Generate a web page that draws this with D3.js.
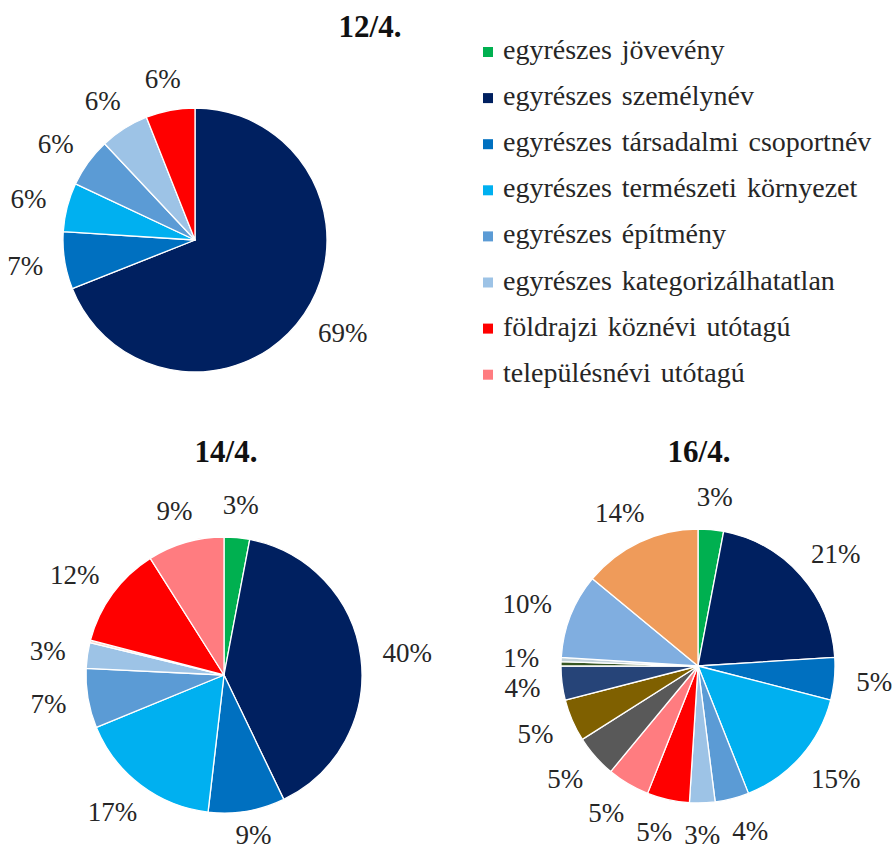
<!DOCTYPE html>
<html>
<head>
<meta charset="utf-8">
<script src="https://cdn.jsdelivr.net/npm/d3@7"></script>
<style>
  html, body { margin: 0; padding: 0; background: #fff; }
</style>
</head>
<body>
<div id="chart"></div>
<script>
// ----- Data -----
const legendLabels = [
  "egyrészes jövevény",
  "egyrészes személynév",
  "egyrészes társadalmi csoportnév",
  "egyrészes természeti környezet",
  "egyrészes építmény",
  "egyrészes kategorizálhatatlan",
  "földrajzi köznévi utótagú",
  "településnévi utótagú"
];

// category index per slice (0-7 = legend, 8+ = extra categories not in legend)
const pie12Cats   = [0, 1, 2, 3, 4, 5, 6];
const pie12Values = [0, 69, 7, 6, 6, 6, 6];
const pie12Labels = ["", "69%", "7%", "6%", "6%", "6%", "6%"];

const pie14Cats   = [0, 1, 2, 3, 4, 5, 14, 6, 7];
const pie14Values = [3, 40, 9, 17, 7, 3, 0.3, 12, 9];
const pie14Labels = ["3%", "40%", "9%", "17%", "7%", "3%", "", "12%", "9%"];

const pie16Cats   = [0, 1, 2, 3, 4, 5, 6, 7, 8, 9, 10, 11, 12, 13, 15];
const pie16Values = [3, 21, 5, 15, 4, 3, 5, 5, 5, 5, 4, 0.5, 0.5, 10, 14];
const pie16Labels = ["3%", "21%", "5%", "15%", "4%", "3%", "5%", "5%", "5%", "5%", "4%", "", "1%", "10%", "14%"];

const titles = ["12/4.", "14/4.", "16/4."];

// ----- Style -----
const PALETTE = [
  "#00b050", "#002060", "#0070c0", "#00b0f0", "#5b9bd5", "#9dc3e6",
  "#ff0000", "#ff7c80", "#595959", "#7f6000", "#264478", "#375623",
  "#c0d0d8", "#80aee0", "#fbd5cc", "#ef9b5a"
];
const FONT = "'Liberation Serif', 'DejaVu Serif', serif";
const LABEL_SIZE = 27;
const GAP = 22;

const W = 893, H = 852;
const svg = d3.select("#chart").append("svg")
  .attr("width", W).attr("height", H)
  .attr("font-family", FONT);

const pies = [
  { cx: 195, cy: 240, r: 132, values: pie12Values, cats: pie12Cats, labels: pie12Labels,
    title: titles[0], tx: 370, ty: 37 },
  { cx: 224, cy: 675, r: 138, values: pie14Values, cats: pie14Cats, labels: pie14Labels,
    title: titles[1], tx: 226, ty: 462 },
  { cx: 698, cy: 666, r: 137, values: pie16Values, cats: pie16Cats, labels: pie16Labels,
    title: titles[2], tx: 699, ty: 462 }
];

const pieGen = d3.pie().sort(null).value(d => d.v);

pies.forEach(p => {
  const rows = p.values.map((v, i) => ({ v, cat: p.cats[i], label: p.labels[i] }));
  const arcs = pieGen(rows);
  const arc = d3.arc().innerRadius(0).outerRadius(p.r);

  const g = svg.append("g").attr("transform", `translate(${p.cx},${p.cy})`);

  g.selectAll("path").data(arcs).join("path")
    .attr("d", arc)
    .attr("fill", d => PALETTE[d.data.cat])
    .attr("stroke", "#fff")
    .attr("stroke-width", 1.3)
    .attr("stroke-linejoin", "round");

  // labels: just outside the arc edge, shifted by half the text box
  const lab = g.selectAll("text.lab").data(arcs.filter(d => d.data.label)).join("text")
    .attr("class", "lab")
    .attr("font-size", LABEL_SIZE)
    .attr("fill", "#262626")
    .attr("text-anchor", "middle")
    .attr("dy", "0.35em")
    .text(d => d.data.label);

  const hh = LABEL_SIZE * 0.4;
  const boxes = [];
  lab.each(function(d) {
    const a = (d.startAngle + d.endAngle) / 2;
    const s = Math.sin(a), c = Math.cos(a);
    const hw = this.getComputedTextLength() / 2;
    const rr = p.r + GAP;
    const x = rr * s + hw * s;
    // keep the text inside the picture
    const y = Math.min(-rr * c - hh * c, H - p.cy - hh - 7);
    boxes.push({ node: this, x, y, hw });
  });

  // push overlapping neighbours apart sideways
  for (let k = 0; k < 8; k++) {
    for (let i = 0; i < boxes.length; i++) {
      const A = boxes[i], B = boxes[(i + 1) % boxes.length];
      if (A === B) continue;
      const ox = A.hw + B.hw + 12 - Math.abs(A.x - B.x);
      const oy = 2 * hh + 2 - Math.abs(A.y - B.y);
      if (ox > 0 && oy > 0) {
        const dir = A.x < B.x ? -1 : 1;
        A.x += dir * ox / 2;
        B.x -= dir * ox / 2;
      }
    }
  }
  boxes.forEach(b => d3.select(b.node).attr("x", b.x).attr("y", b.y));

  svg.append("text")
    .attr("x", p.tx).attr("y", p.ty)
    .attr("text-anchor", "middle")
    .attr("font-size", 31)
    .attr("font-weight", "bold")
    .attr("fill", "#111")
    .text(p.title);
});

// ----- Legend -----
const legend = svg.append("g").attr("transform", "translate(483,52)");
const item = legend.selectAll("g").data(legendLabels).join("g")
  .attr("transform", (d, i) => `translate(0,${i * 46.1})`);
item.append("rect")
  .attr("x", 0).attr("y", -5).attr("width", 10).attr("height", 10)
  .attr("fill", (d, i) => PALETTE[i]);
item.append("text")
  .attr("x", 20).attr("y", 7)
  .attr("font-size", 28)
  .attr("fill", "#262626")
  .attr("word-spacing", 3)
  .text(d => d);
</script>
</body>
</html>
